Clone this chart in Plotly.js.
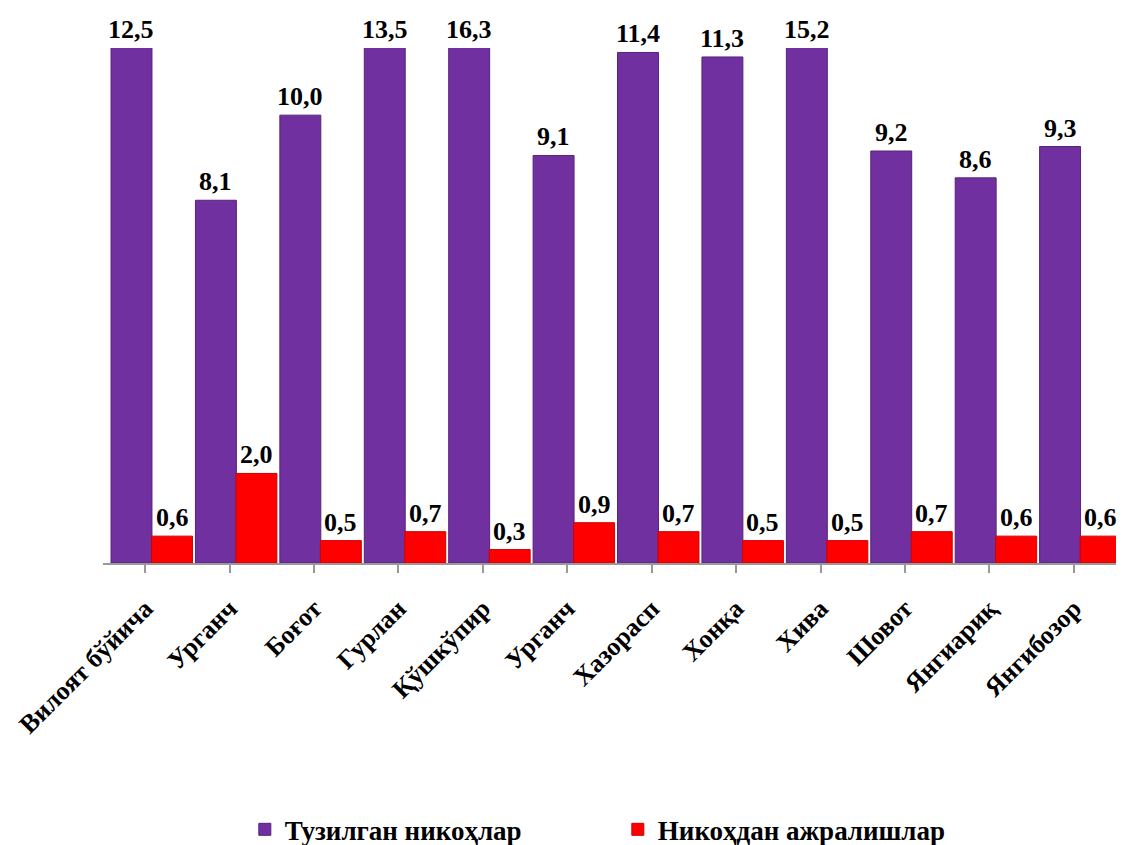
<!DOCTYPE html>
<html>
<head>
<meta charset="utf-8">
<script src="https://cdn.plot.ly/plotly-3.0.1.min.js"></script>
<style>html,body{margin:0;padding:0;background:#fff;}#chart{width:1123px;height:845px;}</style>
</head>
<body>
<div id="chart"></div>
<script>
const categories = ["Вилоят бўйича","Урганч","Боғот","Гурлан","Қўшкўпир","Урганч","Хазорасп","Хонқа","Хива","Шовот","Янгиариқ","Янгибозор"];
const marriages = [12.5, 8.1, 10.0, 13.5, 16.3, 9.1, 11.4, 11.3, 15.2, 9.2, 8.6, 9.3];
const divorces = [0.6, 2.0, 0.5, 0.7, 0.3, 0.9, 0.7, 0.5, 0.5, 0.7, 0.6, 0.6];
const seriesNames = ["Тузилган никоҳлар", "Никоҳдан ажралишлар"];

const YMAX = 11.5;
const BAR_W = 0.485;
const OFFSETS = [-0.405, 0.075];
const idx = categories.map((_, i) => i);
const fmt = v => v.toFixed(1).replace('.', ',');
const FONT = "'Liberation Serif', 'Times New Roman', serif";

const traces = [
  {type:'bar', name: seriesNames[0], x: idx, y: marriages, width: BAR_W, offset: OFFSETS[0],
   marker:{color:'#7030A0', line:{color:'#55247A', width:1}}, hoverinfo:'none'},
  {type:'bar', name: seriesNames[1], x: idx, y: divorces, width: BAR_W, offset: OFFSETS[1],
   marker:{color:'#FF0000', line:{color:'#D00000', width:1}}, hoverinfo:'none'}
];

const annotations = [];
[marriages, divorces].forEach((arr, s) => {
  arr.forEach((v, i) => {
    annotations.push({
      x: i + OFFSETS[s] + BAR_W / 2, y: Math.min(v, YMAX), xref:'x', yref:'y',
      text: '<b>' + fmt(v) + '</b>', showarrow:false, yanchor:'bottom', yshift: 2,
      font:{family: FONT, size: 26, color:'#000'}
    });
  });
});

const layout = {
  width:1123, height:845,
  font:{family: FONT},
  margin:{l:103, r:7, t:48, b:282, autoexpand:false},
  paper_bgcolor:'#fff', plot_bgcolor:'#fff',
  barmode:'overlay',
  showlegend:true,
  legend:{orientation:'h', x:0.14, xanchor:'left', y:-0.518, yanchor:'middle', yref:'paper',
          font:{family: FONT, size:27, color:'#000', weight:'bold'}, entrywidth:328, itemwidth:30},
  xaxis:{range:[-0.5, 11.5], tickvals: idx, ticktext: categories.map(c => '<b>' + c + '</b>'),
         tickangle:-45, tickfont:{family: FONT, size:26, color:'#000'}, ticklabelstandoff:10,
         showline:true, linecolor:'#999', linewidth:2, ticks:'outside', tickson:'boundaries',
         ticklen:8, tickcolor:'#999', tickwidth:2, showgrid:false, zeroline:false, fixedrange:true},
  yaxis:{range:[0, YMAX], visible:false, showgrid:false, zeroline:false, fixedrange:true},
  annotations: annotations
};

Plotly.newPlot('chart', traces, layout, {displayModeBar:false, staticPlot:true});
</script>
</body>
</html>
